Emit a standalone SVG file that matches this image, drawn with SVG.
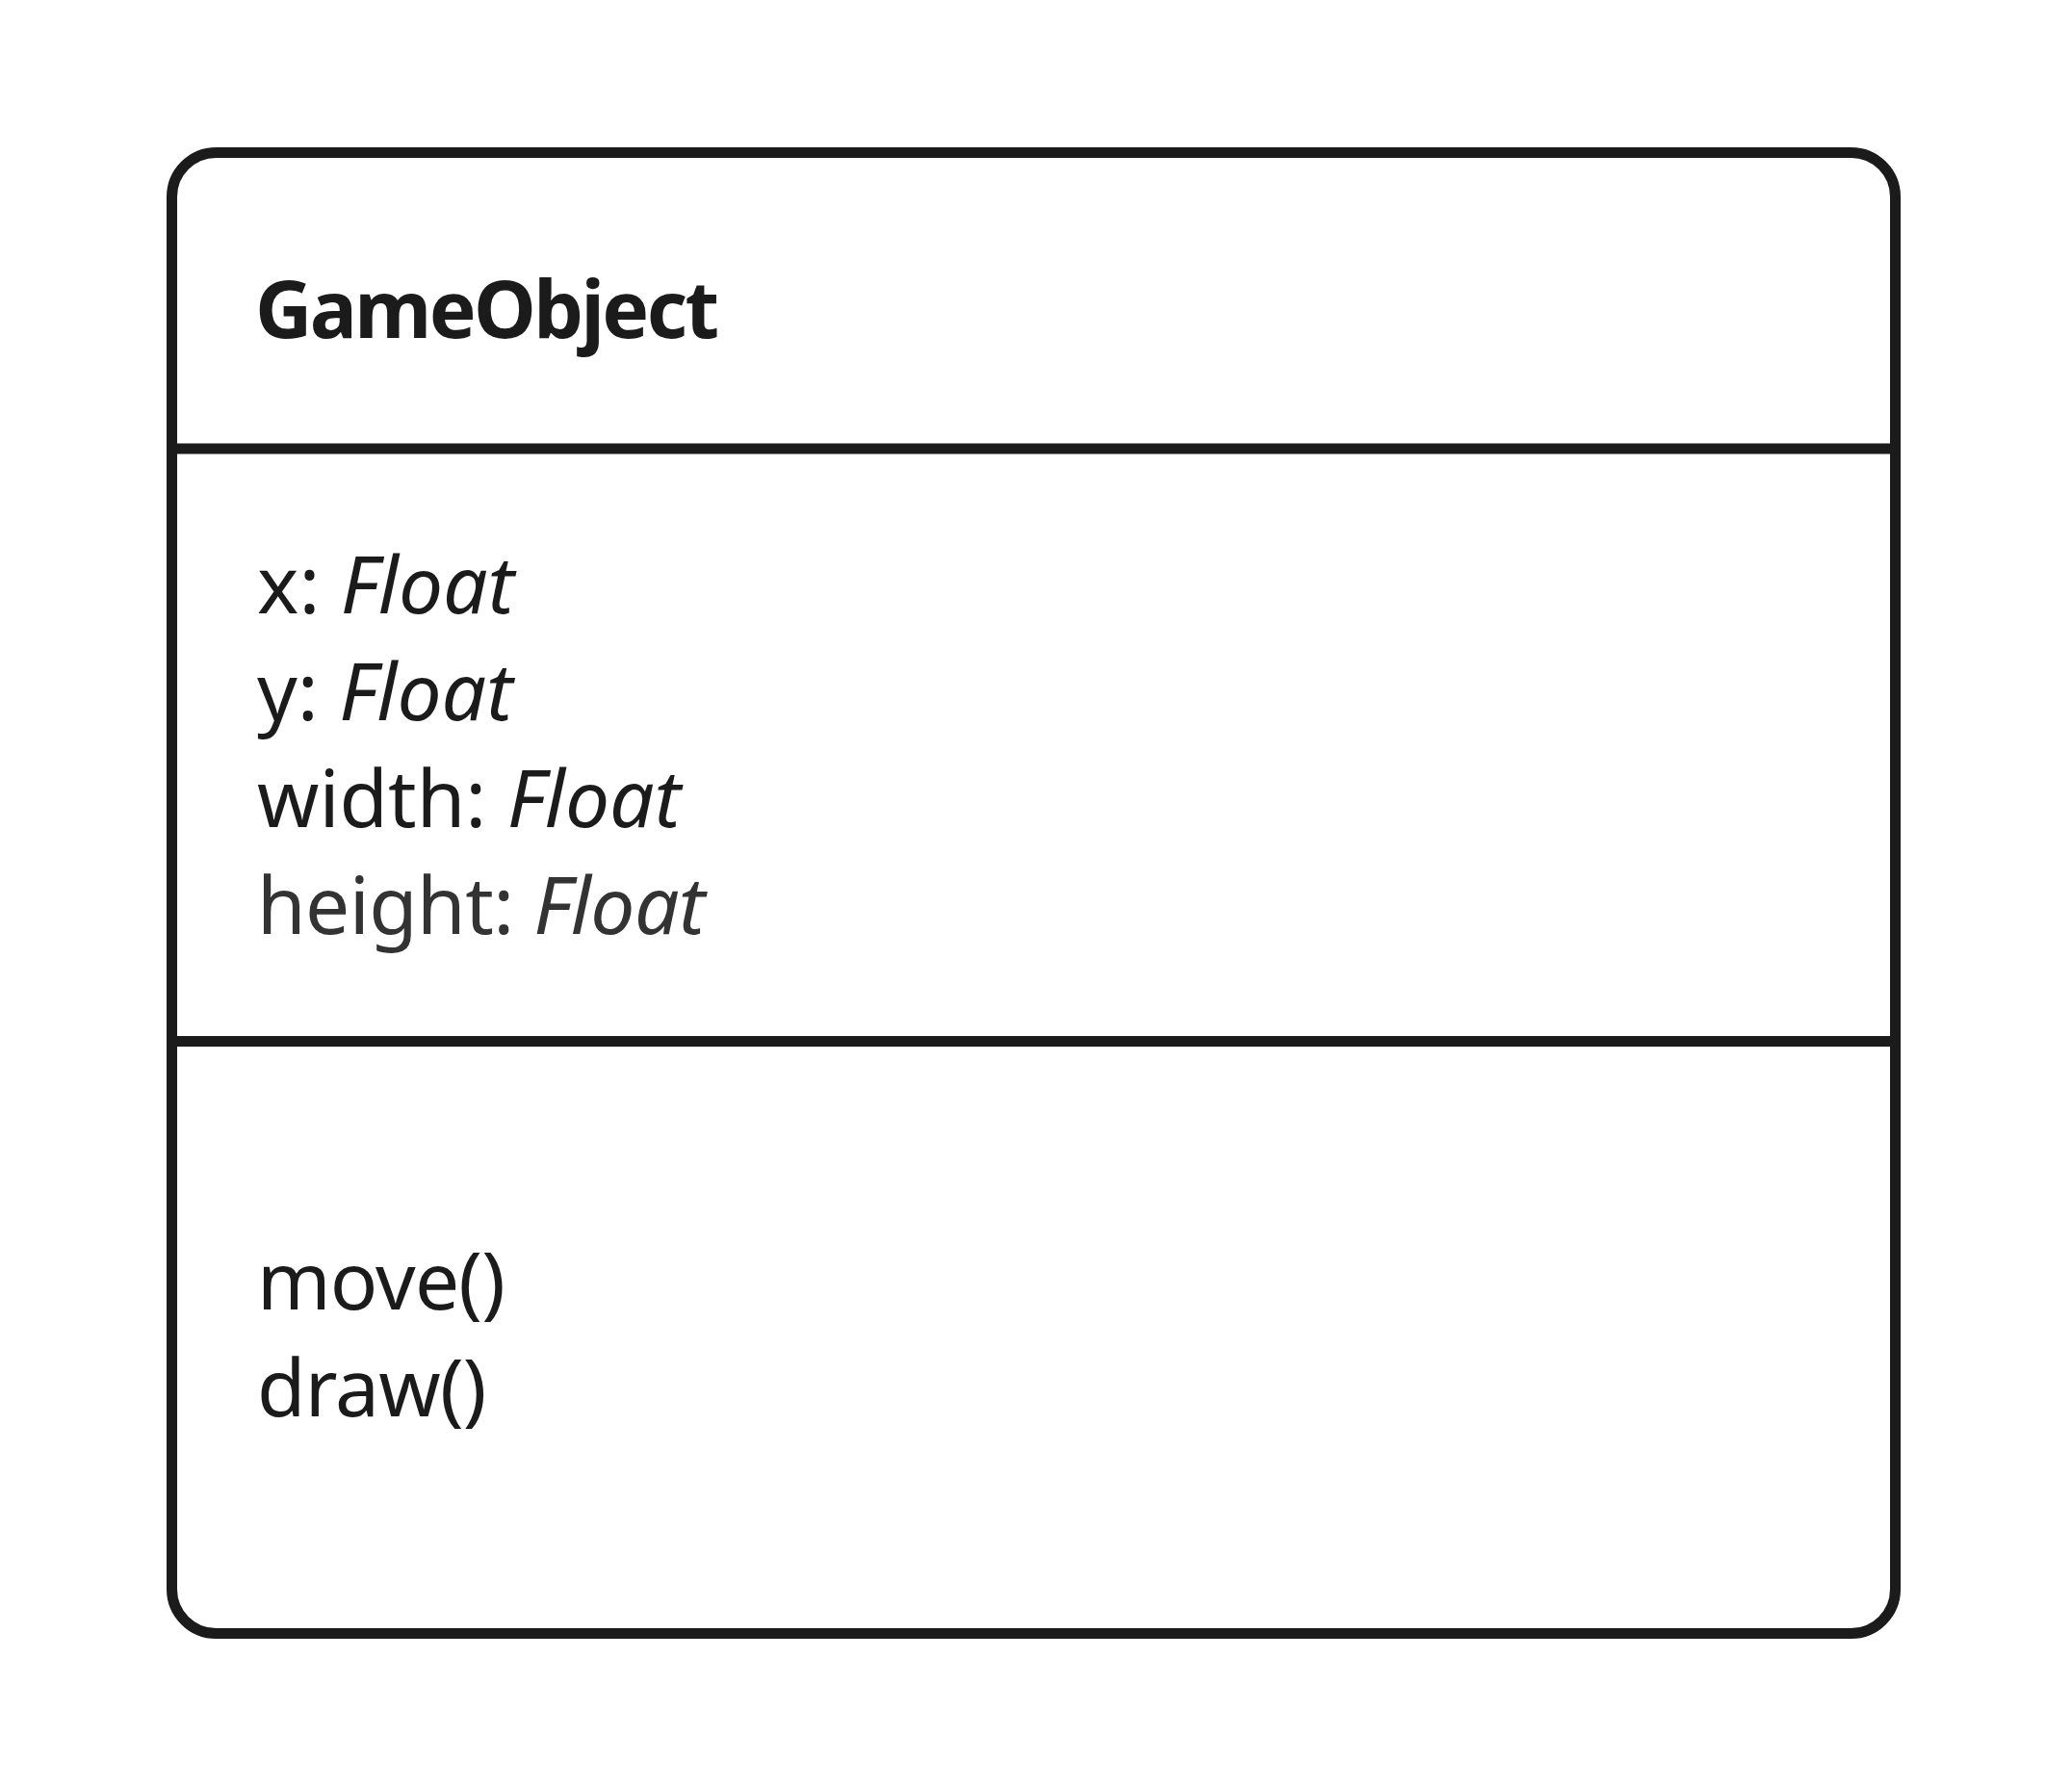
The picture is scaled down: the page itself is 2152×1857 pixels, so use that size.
<svg xmlns="http://www.w3.org/2000/svg" width="2152" height="1857" viewBox="0 0 2152 1857">
<style>
.frame{fill:#fff;stroke:#1b1b1b;stroke-width:11}
.div{stroke:#1b1b1b;stroke-width:11}
.t{font-family:"Noto Sans","Open Sans",sans-serif;font-size:82px;fill:#1b1b1b}
.b{font-weight:700;letter-spacing:-2.6px}
.i{font-style:italic}
.g{fill:#333}
</style>
<rect width="2152" height="1857" fill="#fff"/>
<g id="GameObject">
<rect class="frame" x="178.5" y="158.5" width="1790" height="1538" rx="46" ry="46"/>
<line class="div" x1="178.5" y1="466" x2="1968.5" y2="466"/>
<line class="div" x1="178.5" y1="1081.5" x2="1968.5" y2="1081.5"/>
<text class="t b" x="265" y="351">GameObject</text>
<text class="t" x="267" y="637">x: <tspan class="i">Float</tspan></text>
<text class="t" x="267" y="748">y: <tspan class="i">Float</tspan></text>
<text class="t" x="267" y="859">width: <tspan class="i">Float</tspan></text>
<text class="t g" x="267" y="970" letter-spacing="-0.6">height: <tspan class="i">Float</tspan></text>
<text class="t" x="267" y="1360" letter-spacing="-0.8">move()</text>
<text class="t" x="267" y="1471" letter-spacing="-0.8">draw()</text>
</g>
<g id="connectors"/>
</svg>
